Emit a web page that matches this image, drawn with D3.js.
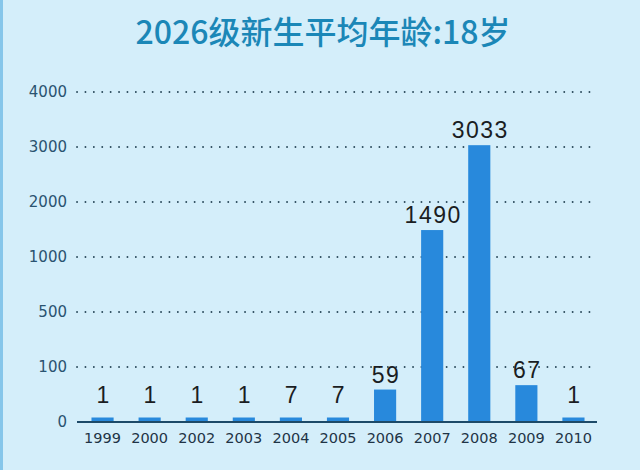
<!DOCTYPE html>
<html>
<head>
<meta charset="utf-8">
<script src="https://cdn.jsdelivr.net/npm/d3@7"></script>
<style>
  html, body { margin: 0; padding: 0; background: #d4eefa; }
</style>
</head>
<body>
<div class="ageBar"></div>
<script>
// data
var years = ["1999", "2000", "2002", "2003", "2004", "2005", "2006", "2007", "2008", "2009", "2010"];
var counts = [1, 1, 1, 1, 7, 7, 59, 1490, 3033, 67, 1];
var yTicks = [0, 100, 500, 1000, 2000, 3000, 4000];
var title = "2026级新生平均年龄:18岁";

var W = 640, H = 470;

var svg = d3.select(".ageBar")
  .append("svg")
    .attr("width", W)
    .attr("height", H);

// background + the blue strip on the left edge
svg.append("rect")
  .attr("width", W).attr("height", H)
  .attr("fill", "#d4eefa");
svg.append("rect")
  .attr("x", 0).attr("y", 0)
  .attr("width", 3).attr("height", H)
  .attr("fill", "#86c6ea");

// title
svg.append("text")
  .attr("x", 323)
  .attr("y", 44)
  .attr("text-anchor", "middle")
  .attr("font-family", "'Noto Sans CJK SC', sans-serif")
  .attr("font-weight", "500")
  .attr("font-size", "32px")
  .attr("fill", "#1b87b7")
  .text(title);

// x: one band per year
var x = d3.scaleBand()
  .domain(years)
  .range([79, 597])
  .paddingInner(0.53)
  .paddingOuter(0.265);

// y: ticks are evenly spaced, so the scale is piecewise
var y = d3.scaleLinear()
  .domain(yTicks)
  .range(yTicks.map(function(d, i) { return 422 - i * 55; }));

// dotted grid lines
svg.selectAll(".grid")
  .data(yTicks.slice(1))
  .enter()
  .append("line")
    .attr("x1", 77)
    .attr("x2", 597)
    .attr("y1", function(d) { return y(d); })
    .attr("y2", function(d) { return y(d); })
    .attr("stroke", "#2c4b5c")
    .attr("stroke-width", 1.8)
    .attr("stroke-linecap", "round")
    .attr("stroke-dasharray", "0.1 8.3");

// y tick labels
svg.selectAll(".ylab")
  .data(yTicks)
  .enter()
  .append("text")
    .attr("x", 67)
    .attr("y", function(d) { return y(d) + 5; })
    .attr("text-anchor", "end")
    .attr("font-family", "'DejaVu Sans', sans-serif")
    .attr("font-size", "15px")
    .attr("fill", "#2a5370")
    .text(function(d) { return d; });

// bars (tiny values still get a visible stub)
svg.selectAll(".bar")
  .data(counts)
  .enter()
  .append("rect")
    .attr("x", function(d, i) { return x(years[i]); })
    .attr("width", x.bandwidth())
    .attr("y", function(d) { return Math.min(y(d), y(0) - 4.5); })
    .attr("height", function(d) { return Math.max(y(0) - y(d), 4.5); })
    .attr("fill", "#2889dc");

// baseline
svg.append("line")
  .attr("x1", 77).attr("x2", 597)
  .attr("y1", y(0)).attr("y2", y(0))
  .attr("stroke", "#1d4a68")
  .attr("stroke-width", 2);

// year labels
svg.selectAll(".xlab")
  .data(years)
  .enter()
  .append("text")
    .attr("x", function(d) { return x(d) + x.bandwidth() / 2; })
    .attr("y", 443)
    .attr("text-anchor", "middle")
    .attr("font-family", "'DejaVu Sans', sans-serif")
    .attr("font-size", "14.5px")
    .attr("fill", "#1f3446")
    .text(function(d) { return d; });

// value labels
svg.selectAll(".val")
  .data(counts)
  .enter()
  .append("text")
    .attr("x", function(d, i) { return x(years[i]) + x.bandwidth() / 2 + 1; })
    .attr("y", function(d) { return Math.min(y(d) - 7, 403); })
    .attr("text-anchor", "middle")
    .attr("font-family", "'Liberation Sans', Arial, sans-serif")
    .attr("font-size", "23px")
    .attr("letter-spacing", "1.5px")
    .attr("fill", "#1a1d22")
    .text(function(d) { return d; });
</script>
</body>
</html>
